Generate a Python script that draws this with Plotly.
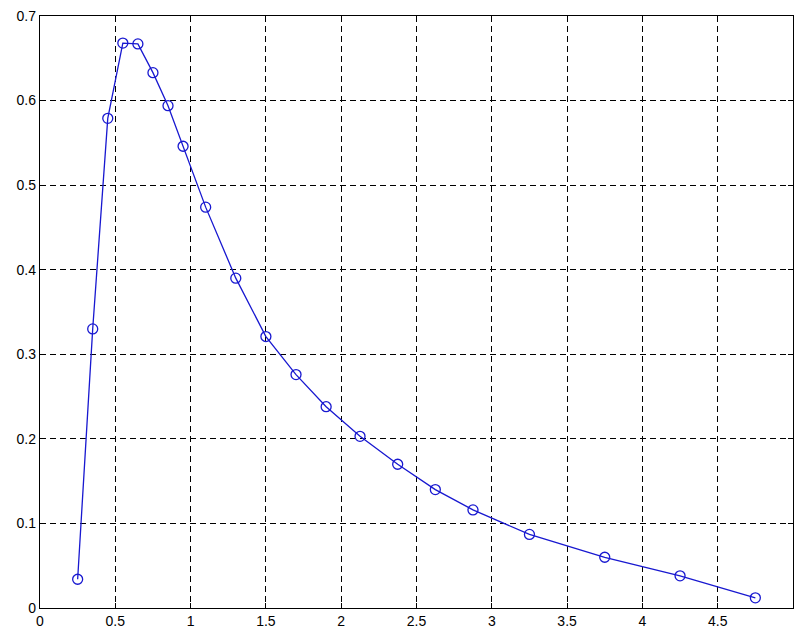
import plotly.graph_objects as go

x_vals = [0.25, 0.35, 0.45, 0.55, 0.65, 0.75, 0.85, 0.95, 1.1, 1.3, 1.5, 1.7, 1.9,
          2.125, 2.375, 2.625, 2.875, 3.25, 3.75, 4.25, 4.75]
y_vals = [0.034, 0.330, 0.579, 0.668, 0.667, 0.633, 0.594, 0.546, 0.474, 0.390, 0.321,
          0.276, 0.238, 0.203, 0.170, 0.140, 0.116, 0.087, 0.060, 0.038, 0.012]

x_ticks = [0, 0.5, 1, 1.5, 2, 2.5, 3, 3.5, 4, 4.5, 5]
x_ticktext = ["0", "0.5", "1", "1.5", "2", "2.5", "3", "3.5", "4", "4.5", "5"]
y_ticks = [0, 0.1, 0.2, 0.3, 0.4, 0.5, 0.6, 0.7]
y_ticktext = ["0", "0.1", "0.2", "0.3", "0.4", "0.5", "0.6", "0.7"]

fig = go.Figure()
fig.add_trace(go.Scatter(
    x=x_vals, y=y_vals, mode="lines+markers",
    line=dict(color="#1818d0", width=1.3),
    marker=dict(symbol="circle-open", size=10, color="#1818d0", line=dict(width=1.3)),
    showlegend=False,
))

axis_common = dict(
    showline=True, linecolor="black", linewidth=1.3, mirror="allticks",
    ticks="inside", ticklen=5, tickcolor="black",
    showgrid=True, gridcolor="black", gridwidth=1.2, griddash="6px,4px",
    zeroline=False, tickfont=dict(family="Arial", size=14, color="black"),
)

fig.update_xaxes(range=[0, 5], tickvals=x_ticks, ticktext=x_ticktext, **axis_common)
fig.update_yaxes(range=[0, 0.7], tickvals=y_ticks, ticktext=y_ticktext, **axis_common)

fig.update_layout(
    width=797, height=632,
    margin=dict(l=40, r=3, t=16, b=22),
    plot_bgcolor="white", paper_bgcolor="white",
)

fig.write_html("out.html")
